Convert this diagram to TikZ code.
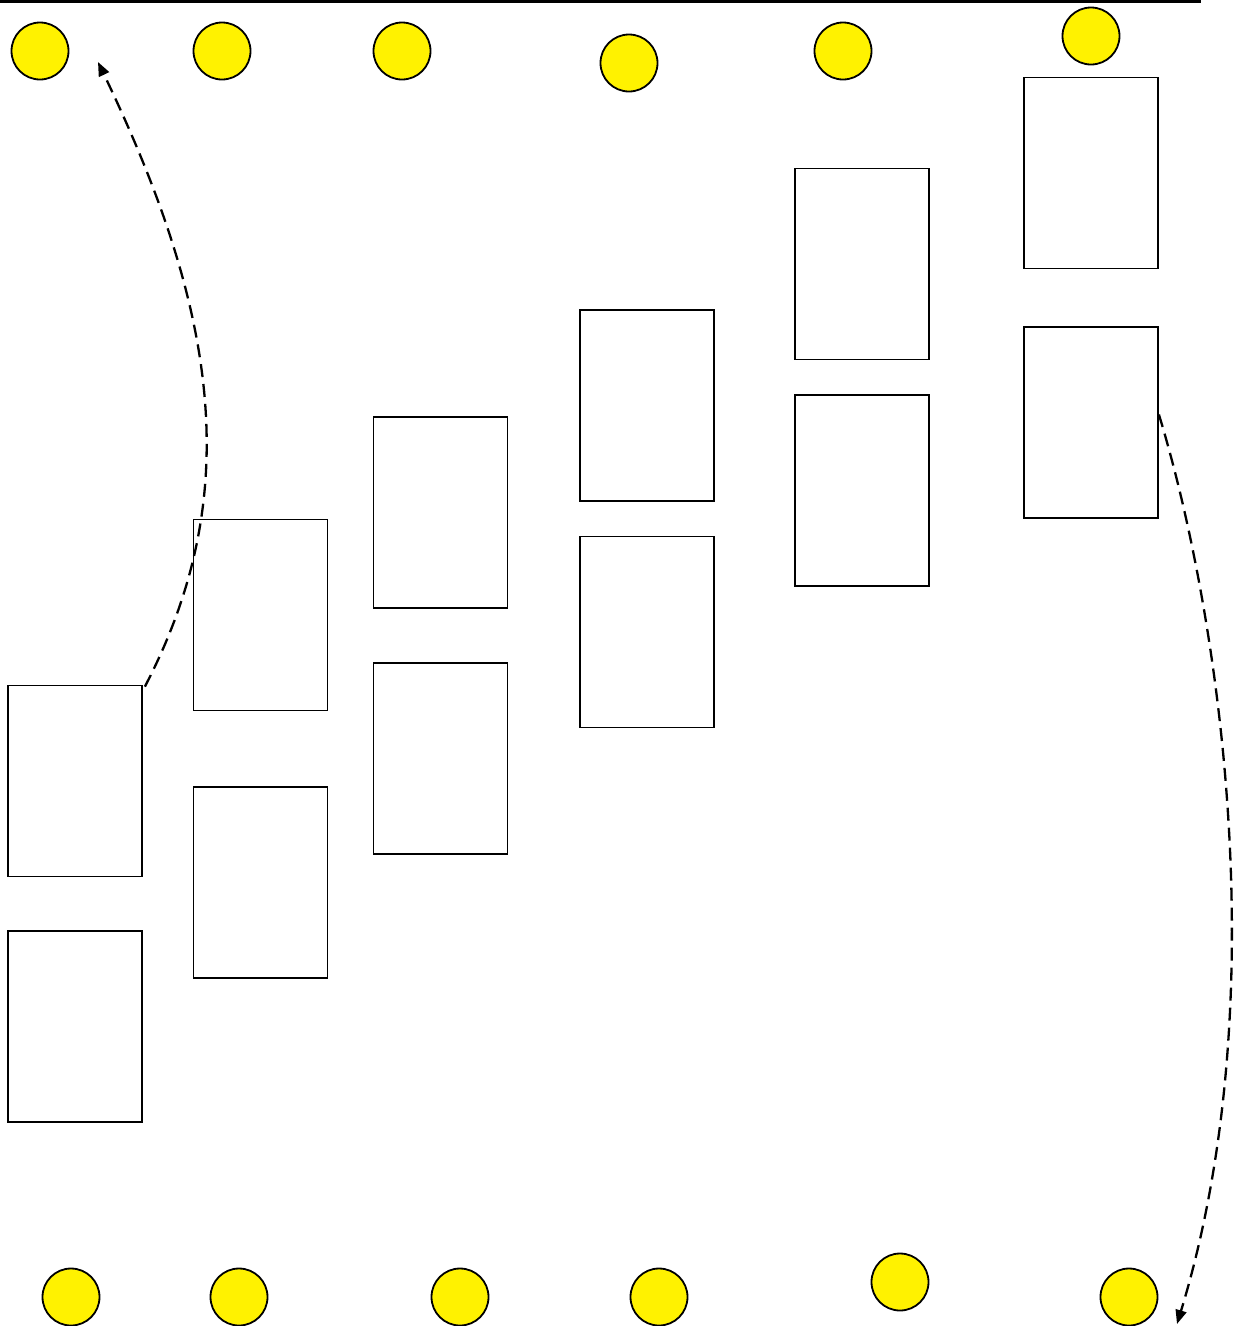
\documentclass[tikz,border=0pt]{standalone}
\usetikzlibrary{arrows.meta}
\begin{document}
\begin{tikzpicture}[x=1pt,y=-1pt,
  dot/.style={circle,draw=black,fill=yellow,line width=1.8pt,minimum size=57pt,inner sep=0pt},
  card/.style={rectangle,draw=black,fill=white,line width=1.8pt,minimum width=134pt,minimum height=191pt,inner sep=0pt},
  link/.style={dashed,dash pattern=on 13pt off 7pt,line width=2.3pt,-{Triangle[length=14pt,width=11pt]}}]
\useasboundingbox (0,0) rectangle (1236,1326);
\coordinate (tl) at (0,1);
\coordinate (tr) at (1201,1);
\draw[line width=3pt] (tl) -- (tr);
% top circles
\node[dot] (t1) at (40,51) {};
\node[dot] (t2) at (222,51) {};
\node[dot] (t3) at (402,51) {};
\node[dot] (t4) at (629,63) {};
\node[dot] (t5) at (843,51) {};
\node[dot] (t6) at (1091,36) {};
% bottom circles
\node[dot] (b1) at (71,1297) {};
\node[dot] (b2) at (239,1297) {};
\node[dot] (b3) at (460,1297) {};
\node[dot] (b4) at (659,1297) {};
\node[dot] (b5) at (900,1282) {};
\node[dot] (b6) at (1129,1297) {};
% cards
\node[card] (c1a) at (75,781) {};
\node[card] (c1b) at (75,1026.5) {};
\node[card] (c2a) at (260.5,615) {};
\node[card] (c2b) at (260.5,882.5) {};
\node[card] (c3a) at (440.5,512.5) {};
\node[card] (c3b) at (440.5,758.5) {};
\node[card] (c4a) at (647,405.5) {};
\node[card] (c4b) at (647,632) {};
\node[card] (c5a) at (862,264) {};
\node[card] (c5b) at (862,490.5) {};
\node[card] (c6a) at (1091,173) {};
\node[card] (c6b) at (1091,422.5) {};
% arrows
\coordinate (e1) at (98,62);
\coordinate (e2) at (1177,1324);
\draw[link] ([xshift=2pt,yshift=-2pt]c1a.north east) .. controls (242,500) and (222,320) .. (e1);
\draw[link] ([yshift=8pt]c6b.east) .. controls (1220,615) and (1276,1000) .. (e2);
\end{tikzpicture}
\end{document}
